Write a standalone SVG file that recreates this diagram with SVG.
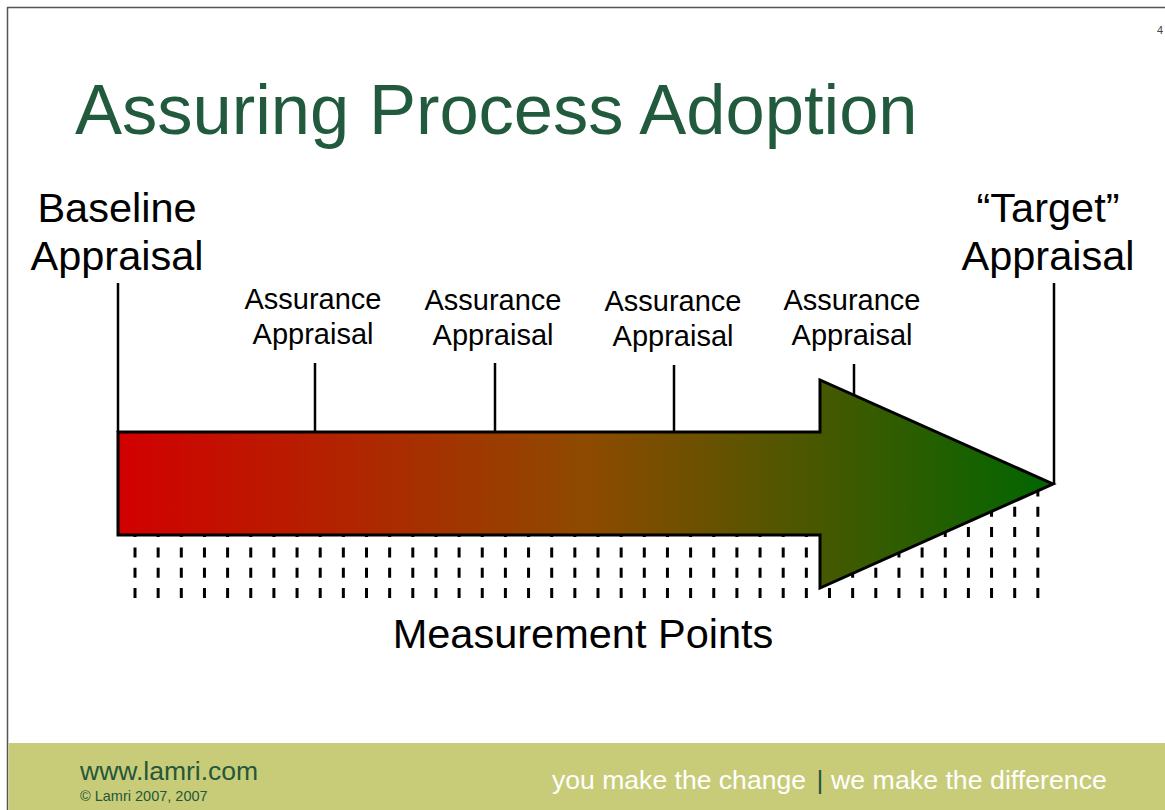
<svg xmlns="http://www.w3.org/2000/svg" width="1165" height="810" viewBox="0 0 1165 810">
<defs>
<linearGradient id="grad" gradientUnits="userSpaceOnUse" x1="118" y1="0" x2="1053" y2="0">
<stop offset="0" stop-color="#D20000"/>
<stop offset="0.5" stop-color="#8E4A00"/>
<stop offset="1" stop-color="#006600"/>
</linearGradient>
<style>
.t{font-family:"Liberation Sans",Arial,sans-serif;}
.big{font-size:41.5px;fill:#000;text-anchor:middle;}
.mid{font-size:29px;fill:#000;text-anchor:middle;}
.ln{stroke:#000;stroke-width:2.5;fill:none;}
.dash{stroke:#000;stroke-width:3;stroke-dasharray:10 10.3;fill:none;}
</style>
</defs>
<rect x="0" y="0" width="1165" height="810" fill="#fff"/>
<g id="frame">
<line x1="7" y1="7.5" x2="1165" y2="7.5" stroke="#555" stroke-width="1.5"/>
<line x1="7.5" y1="7" x2="7.5" y2="810" stroke="#555" stroke-width="1.5"/>
</g>
<g id="footer">
<rect x="8.5" y="743" width="1156.5" height="67" fill="#C8CC78"/>
<text class="t" x="80" y="780" font-size="26.5" fill="#25573A">www.lamri.com</text>
<text class="t" x="80" y="801" font-size="14.5" fill="#25573A">© Lamri 2007, 2007</text>
<text class="t" x="552" y="789" font-size="26.5" fill="#fff" textLength="254" lengthAdjust="spacingAndGlyphs">you make the change</text>
<text class="t" x="816.5" y="789" font-size="26.5" fill="#25573A">|</text>
<text class="t" x="831" y="789" font-size="26.5" fill="#fff" textLength="276" lengthAdjust="spacingAndGlyphs">we make the difference</text>
</g>
<text id="page" class="t" x="1157" y="34" font-size="11" fill="#444">4</text>
<text id="title" class="t" x="75" y="134" font-size="70.5" fill="#215A3C">Assuring Process Adoption</text>
<g id="measurement-dashes">
<path class="dash" d="M135 598V480M158.15 598V480M181.3 598V480M204.45 598V480M227.6 598V480M250.75 598V480M273.9 598V480M297.05 598V480M320.2 598V480M343.35 598V480M366.5 598V480M389.65 598V480M412.8 598V480M435.95 598V480M459.1 598V480M482.25 598V480M505.4 598V480M528.55 598V480M551.7 598V480M574.85 598V480M598 598V480M621.15 598V480M644.3 598V480M667.45 598V480M690.6 598V480M713.75 598V480M736.9 598V480M760.05 598V480M783.2 598V480M806.35 598V480M829.5 598V480M852.65 598V480M875.8 598V480M898.95 598V480M922.1 598V480M945.25 598V480M968.4 598V480M991.55 598V480M1014.7 598V480M1037.85 598V480"/>
</g>
<g id="connectors">
<line class="ln" x1="118" y1="283" x2="118" y2="432"/>
<line class="ln" x1="315" y1="363" x2="315" y2="432"/>
<line class="ln" x1="495" y1="363" x2="495" y2="432"/>
<line class="ln" x1="674" y1="365" x2="674" y2="432"/>
<line class="ln" x1="854" y1="364" x2="854" y2="400"/>
<line class="ln" x1="1054" y1="283" x2="1054" y2="484"/>
</g>
<g id="arrow">
<path d="M118 432H820V380L1053 484L820 588V535H118Z" fill="url(#grad)" stroke="#000" stroke-width="3" stroke-linejoin="miter"/>
</g>
<g id="baseline-label">
<text class="t big" x="117" y="222">Baseline</text>
<text class="t big" x="117" y="270">Appraisal</text>
</g>
<g id="target-label">
<text class="t big" x="1048" y="222">“Target”</text>
<text class="t big" x="1048" y="270">Appraisal</text>
</g>
<g id="assurance-1">
<text class="t mid" x="313" y="309">Assurance</text>
<text class="t mid" x="313" y="344">Appraisal</text>
</g>
<g id="assurance-2">
<text class="t mid" x="493" y="310">Assurance</text>
<text class="t mid" x="493" y="345">Appraisal</text>
</g>
<g id="assurance-3">
<text class="t mid" x="673" y="311">Assurance</text>
<text class="t mid" x="673" y="346">Appraisal</text>
</g>
<g id="assurance-4">
<text class="t mid" x="852" y="310">Assurance</text>
<text class="t mid" x="852" y="345">Appraisal</text>
</g>
<text id="measurement-label" class="t big" x="583" y="648">Measurement Points</text>
</svg>
